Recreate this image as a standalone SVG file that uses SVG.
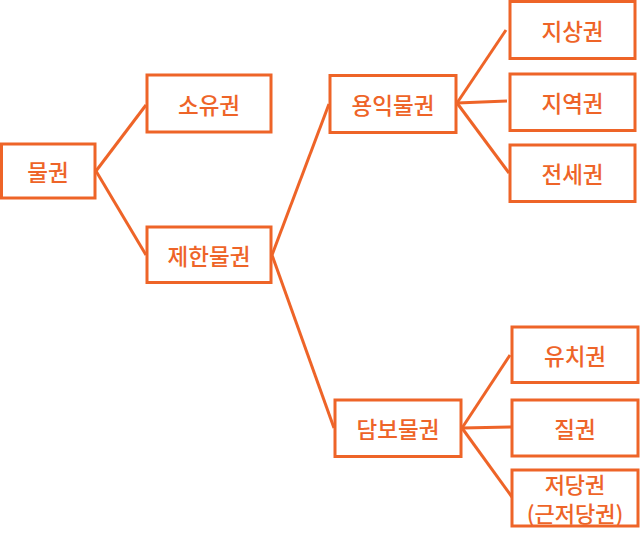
<svg xmlns="http://www.w3.org/2000/svg" width="640" height="542" viewBox="0 0 640 542">
<style>
.n rect{fill:#fff;stroke:#EE6428;stroke-width:3}
.n text{fill:#EE6428;font-family:"Noto Sans CJK KR","Noto Sans",sans-serif;font-size:22.5px;font-weight:500;text-anchor:middle;dominant-baseline:central}
.n text.s{font-size:22px}
.c line{stroke:#EE6428;stroke-width:3;stroke-linecap:butt}
</style>
<rect width="640" height="542" fill="#fff"/>
<g class="c" id="connectors">
<line x1="96" y1="171" x2="146" y2="105"/>
<line x1="96" y1="171" x2="146" y2="255"/>
<line x1="272" y1="255" x2="329" y2="104"/>
<line x1="272" y1="255" x2="334" y2="428"/>
<line x1="457" y1="103" x2="506" y2="30"/>
<line x1="457" y1="103" x2="507" y2="101"/>
<line x1="457" y1="103" x2="509" y2="173"/>
<line x1="462" y1="428" x2="510" y2="355"/>
<line x1="462" y1="428" x2="511" y2="427"/>
<line x1="462" y1="428" x2="512" y2="497"/>
</g>
<g class="n" id="n-mulgwon"><rect x="1.5" y="144" width="93.5" height="54"/><text x="48" y="171">물권</text></g>
<g class="n" id="n-soyugwon"><rect x="147" y="75" width="124" height="57"/><text x="209" y="103.5">소유권</text></g>
<g class="n" id="n-jehan"><rect x="147" y="227" width="124" height="55.5"/><text x="209" y="255">제한물권</text></g>
<g class="n" id="n-yongik"><rect x="330" y="75.5" width="126" height="57"/><text x="393" y="104">용익물권</text></g>
<g class="n" id="n-jisang"><rect x="510" y="1.5" width="125" height="57"/><text x="572.5" y="30">지상권</text></g>
<g class="n" id="n-jiyeok"><rect x="510" y="74" width="125" height="56.5"/><text x="572.5" y="102">지역권</text></g>
<g class="n" id="n-jeonse"><rect x="510" y="145" width="125" height="56.5"/><text x="572.5" y="173">전세권</text></g>
<g class="n" id="n-dambo"><rect x="335" y="400" width="126" height="56.5"/><text x="398" y="428">담보물권</text></g>
<g class="n" id="n-yuchi"><rect x="512" y="327" width="126" height="55.5"/><text x="575" y="355">유치권</text></g>
<g class="n" id="n-jil"><rect x="512" y="400" width="126" height="56"/><text x="575" y="428">질권</text></g>
<g class="n" id="n-jeodang"><rect x="512" y="470" width="126" height="56"/><text class="s" x="575" y="483">저당권</text><text class="s" x="575" y="512">(근저당권)</text></g>
</svg>
